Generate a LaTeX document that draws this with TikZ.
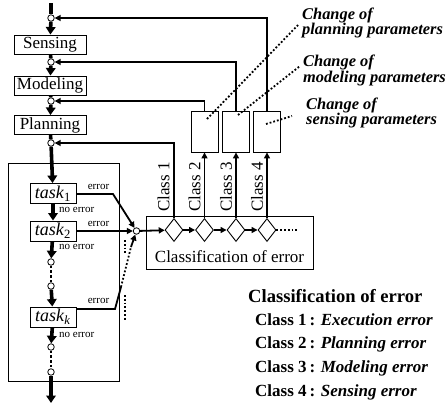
\documentclass[tikz,border=0pt]{standalone}
\usepackage{fontspec}
\setmainfont{Liberation Serif}
\usetikzlibrary{arrows.meta,shapes.geometric}
\begin{document}
\begin{tikzpicture}[x=1pt,y=-1pt,
  box/.style={draw,line width=0.9pt,inner sep=0pt,font=\fontsize{17}{17}\selectfont},
  mainbox/.style={box,minimum width=72pt,minimum height=19pt},
  taskbox/.style={box,minimum width=46pt,minimum height=20pt,font=\fontsize{18}{18}\selectfont},
  parbox/.style={draw,line width=0.9pt,inner sep=0pt,minimum width=27pt,minimum height=41pt},
  pt/.style={circle,draw,fill=white,inner sep=0pt,minimum size=6.5pt,line width=0.8pt},
  spine/.style={line width=3.6pt},
  sarr/.style={spine,-{Triangle[length=7.5pt,width=9.5pt]}},
  sdots/.style={line width=2.4pt,dash pattern=on 2.4pt off 2.4pt},
  fb/.style={line width=1.8pt},
  farr/.style={fb,-{Triangle[length=6pt,width=6pt]}},
  dots/.style={line width=1.8pt,dash pattern=on 1.8pt off 2pt},
  dia/.style={diamond,draw,line width=0.9pt,inner sep=0pt,minimum width=18pt,minimum height=23pt,fill=white},
  small/.style={inner sep=0pt,font=\fontsize{11}{11}\selectfont},
  clab/.style={rotate=90,anchor=west,inner sep=0pt,font=\fontsize{17}{17}\selectfont},
  chg/.style={anchor=north west,align=left,inner sep=0pt,font=\fontsize{16.4}{15.5}\selectfont\bfseries\itshape},
  lst/.style={anchor=base west,inner sep=0pt,font=\fontsize{17}{17}\selectfont\bfseries}
]
\useasboundingbox (0,0) rectangle (447,407);

% spine nodes
\coordinate (top) at (51,3);
\node[pt] (c0) at (51,18) {};
\node[mainbox] (sens) at (50,44.5) {Sensing};
\node[pt] (c1) at (51,62) {};
\node[mainbox] (model) at (50,85.5) {Modeling};
\node[pt] (c2) at (51,101) {};
\node[mainbox] (plan) at (50,125) {Planning};
\node[pt] (c3) at (51,143) {};

\node[draw,line width=0.9pt,minimum width=111pt,minimum height=218pt,inner sep=0pt] (exec) at (63.5,272) {};
\node[taskbox,fill=white] (t1) at (53,193.5) {\textit{task}\textsubscript{1}};
\node[taskbox,fill=white] (t2) at (53,231) {\textit{task}\textsubscript{2}};
\node[taskbox,fill=white] (tk) at (53,317) {\textit{task}\textsubscript{\textit{k}}};
\node[pt] (c4) at (51,262) {};
\node[pt] (c5) at (51,286) {};
\node[pt] (c6) at (51,347) {};
\node[pt] (c7) at (51,372) {};
\coordinate (bot) at (51,403);

% spine connectors
\draw[spine] (top) -- (c0);
\draw[sarr] (c0) -- (sens);
\draw[spine] (sens) -- (c1);
\draw[sarr] (c1) -- (model);
\draw[spine] (model) -- (c2);
\draw[sarr] (c2) -- (plan);
\draw[spine] (plan) -- (c3);
\draw[sarr] (c3) -- (t1);
\draw[sarr] (t1) -- (t2);
\draw[sarr] (t2) -- (c4);
\draw[sdots] (c4) -- (c5);
\draw[sarr] (c5) -- (tk);
\draw[sarr] (tk) -- (c6);
\draw[sdots] (c6) -- (c7);
\draw[sarr] (c7) -- (bot);

% labels on tasks
\node[small,anchor=west] (no1) at (59,210) {no error};
\node[small,anchor=west] (no2) at (59,247) {no error};
\node[small,anchor=west] (nok) at (59,335) {no error};
\node[small] (er1) at (98.5,187) {error};
\node[small] (er2) at (98.5,224) {error};
\node[small] (erk) at (98.5,301) {error};

% merge circle and error connectors
\node[pt] (m) at (136.5,231) {};
\coordinate (e1) at (113,194);
\coordinate (ek1) at (115,309);
\coordinate (ek2) at (121,287);
\coordinate (ek3) at (131,247);
\draw[farr] (t1.east |- e1) -- (e1) -- (m);
\draw[farr] (t2) -- (m);
\draw[fb] (tk.east |- ek1) -- (ek1) -- (ek2);
\draw[dots] (ek2) -- (ek3);
\draw[farr] (ek3) -- (m);
\coordinate (v1a) at (125,240);
\coordinate (v1b) at (125,253);
\coordinate (v2a) at (125,295);
\coordinate (v2b) at (125,321);
\draw[dots] (v1a) -- (v1b);
\draw[dots] (v2a) -- (v2b);

% classification box
\node[draw,line width=0.9pt,minimum width=167pt,minimum height=53pt,inner sep=0pt] (cls) at (229.5,242.5) {};
\node[inner sep=0pt,font=\fontsize{17}{17}\selectfont] (clst) at (229.5,257) {Classification of error};
\node[dia] (d1) at (174,230) {};
\node[dia] (d2) at (204.5,230) {};
\node[dia] (d3) at (236,230) {};
\node[dia] (d4) at (267,230) {};
\coordinate (dend) at (299,230);
\draw[farr] (m) -- (d1);
\draw[farr] (d1) -- (d2);
\draw[farr] (d2) -- (d3);
\draw[farr] (d3) -- (d4);
\draw[dots] (d4) -- (dend);

\node[clab] (k1) at (163.5,212) {Class 1};
\node[clab] (k2) at (194.5,212) {Class 2};
\node[clab] (k3) at (226,212) {Class 3};
\node[clab] (k4) at (257,212) {Class 4};

% parameter boxes
\node[parbox] (p1) at (204.5,131.5) {};
\node[parbox] (p2) at (236,131.5) {};
\node[parbox] (p3) at (267,131.5) {};

\draw[farr] (d1.north) |- (c3);
\draw[farr] (d2.north) -- (p1.south);
\draw[farr] (d3.north) -- (p2.south);
\draw[farr] (d4.north) -- (p3.south);
\draw[farr] (p1.north) |- (c2);
\draw[farr] (p2.north) |- (c1);
\draw[farr] (p3.north) |- (c0);

% change labels
\node[chg] (ch1) at (302,7.5) {Change of\\planning parameters};
\node[chg] (ch2) at (303,55) {Change of\\modeling parameters};
\node[chg] (ch3) at (306,97.5) {Change of\\sensing parameters};
\coordinate (q1) at (207,119);
\coordinate (q2) at (238,115);
\coordinate (q3) at (266,124);
\coordinate (r1) at (298,25);
\coordinate (r2) at (300,66);
\coordinate (r3) at (292,116);
\draw[dots] (q1) -- (r1);
\draw[dots] (q2) -- (r2);
\draw[dots] (q3) -- (r3);

% legend
\node[anchor=base west,inner sep=0pt,font=\fontsize{18.6}{18.6}\selectfont\bfseries] (lt) at (248,302) {Classification of error};
\node[lst] (l1) at (255,325) {Class 1\,: \textit{Execution error}};
\node[lst] (l2) at (255,348.5) {Class 2\,: \textit{Planning error}};
\node[lst] (l3) at (255,372) {Class 3\,: \textit{Modeling error}};
\node[lst] (l4) at (255,396) {Class 4\,: \textit{Sensing error}};
\end{tikzpicture}
\end{document}
